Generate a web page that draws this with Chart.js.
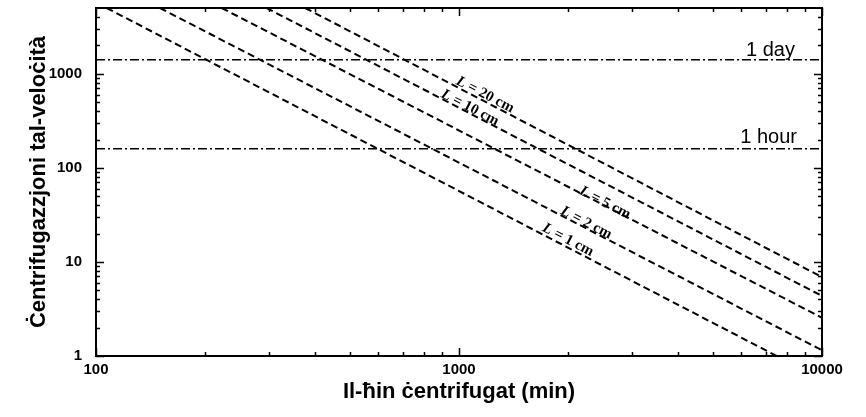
<!DOCTYPE html>
<html>
<head>
<meta charset="utf-8">
<script src="https://cdn.jsdelivr.net/npm/chart.js@4.4.0/dist/chart.umd.min.js"></script>
<style>
  html, body { margin: 0; padding: 0; background: #fff; }
  #wrap { width: 866px; height: 417px; }
</style>
</head>
<body>
<div id="wrap"><canvas id="c" width="866" height="417"></canvas></div>
<script>
/* ── DATA ── */
const X_MAJOR = [100, 1000, 10000];
const X_MINOR = [200, 300, 400, 500, 600, 700, 800, 900, 2000, 3000, 4000, 5000, 6000, 7000, 8000, 9000];
const Y_MAJOR = [1, 10, 100, 1000];
const Y_MINOR = [2, 3, 4, 5, 6, 7, 8, 9, 20, 30, 40, 50, 60, 70, 80, 90,
                 200, 300, 400, 500, 600, 700, 800, 900, 2000, 3000, 4000];

const SERIES   = ['L = 1 cm', 'L = 2 cm', 'L = 5 cm', 'L = 10 cm', 'L = 20 cm'];
const SERIES_X = [[107, 7500], [150, 10000], [222, 10000], [295, 10000], [377, 10000]];
const SERIES_Y = [[5000, 1], [5000, 1.15], [5000, 2.55], [5000, 4.35], [5000, 6.9]];
const LABEL_X  = [1995, 2240, 2523, 1072, 1180];
const LABEL_Y  = [17.1, 26, 42.4, 435, 598];

const REF_NAMES   = ['1 day', '1 hour'];
const REF_Y       = [1410, 160];
const REF_LABEL_X = [8425, 8530];
const REF_LABEL_Y = [1553, 184];

/* ── PLUGINS ── */
const frameTicks = {
  id: 'frameTicks',
  afterDraw(chart) {
    const { ctx, chartArea: a, scales: { x, y } } = chart;
    ctx.save();
    ctx.strokeStyle = '#000';
    ctx.lineWidth = 1.5;
    ctx.beginPath();
    const vTicks = (vals, len) => vals.forEach(v => {
      const px = Math.round(x.getPixelForValue(v)) + 0.5;
      ctx.moveTo(px, a.bottom); ctx.lineTo(px, a.bottom - len);
      ctx.moveTo(px, a.top); ctx.lineTo(px, a.top + len);
    });
    const hTicks = (vals, len) => vals.forEach(v => {
      const py = Math.round(y.getPixelForValue(v)) + 0.5;
      ctx.moveTo(a.left, py); ctx.lineTo(a.left + len, py);
      ctx.moveTo(a.right, py); ctx.lineTo(a.right - len, py);
    });
    vTicks(X_MAJOR, 8); vTicks(X_MINOR, 4);
    hTicks(Y_MAJOR, 8); hTicks(Y_MINOR, 4);
    ctx.stroke();
    ctx.lineWidth = 2;
    ctx.strokeRect(a.left, a.top, a.right - a.left, a.bottom - a.top);
    ctx.restore();
  }
};

const lineLabels = {
  id: 'lineLabels',
  afterDatasetsDraw(chart) {
    const { ctx, scales: { x, y } } = chart;
    ctx.save();
    ctx.fillStyle = '#000';
    ctx.textBaseline = 'middle';
    ctx.textAlign = 'left';
    SERIES.forEach((name, i) => {
      const xs = SERIES_X[i], ys = SERIES_Y[i];
      const ang = Math.atan2(
        y.getPixelForValue(ys[1]) - y.getPixelForValue(ys[0]),
        x.getPixelForValue(xs[1]) - x.getPixelForValue(xs[0]));
      const head = name.slice(0, 1), rest = name.slice(1);
      const fHead = "italic bold 15px 'Liberation Serif'";
      const fRest = "bold 15px 'Liberation Serif'";
      ctx.font = fHead; const wH = ctx.measureText(head).width;
      ctx.font = fRest; const wR = ctx.measureText(rest).width;
      ctx.save();
      ctx.translate(x.getPixelForValue(LABEL_X[i]), y.getPixelForValue(LABEL_Y[i]));
      ctx.rotate(ang);
      const x0 = -(wH + wR) / 2;
      ctx.font = fHead; ctx.fillText(head, x0, 0);
      ctx.font = fRest; ctx.fillText(rest, x0 + wH, 0);
      ctx.restore();
    });
    ctx.font = "20px 'Liberation Sans'";
    ctx.textAlign = 'right';
    ctx.textBaseline = 'alphabetic';
    REF_NAMES.forEach((name, i) => {
      ctx.fillText(name, x.getPixelForValue(REF_LABEL_X[i]), y.getPixelForValue(REF_LABEL_Y[i]));
    });
    ctx.restore();
  }
};

/* ── CHART ── */
const datasets = SERIES.map((name, i) => ({
  label: name,
  data: SERIES_X[i].map((v, j) => ({ x: v, y: SERIES_Y[i][j] })),
  borderColor: '#000',
  borderWidth: 2,
  borderDash: [7, 4],
  pointRadius: 0,
  fill: false
})).concat(REF_NAMES.map((name, i) => ({
  label: name,
  data: [{ x: 100, y: REF_Y[i] }, { x: 10000, y: REF_Y[i] }],
  borderColor: '#000',
  borderWidth: 1.5,
  borderDash: [9, 3, 2, 3],
  pointRadius: 0,
  fill: false
})));

const tickFont = { family: "'Liberation Sans'", size: 15, weight: 'bold' };
const titleFont = { family: "'Liberation Sans'", size: 22, weight: 'bold' };

new Chart(document.getElementById('c'), {
  type: 'line',
  data: { datasets },
  options: {
    responsive: false,
    animation: false,
    layout: { padding: { left: 20, right: 44, top: 8, bottom: 12 } },
    plugins: { legend: { display: false }, tooltip: { enabled: false } },
    scales: {
      x: {
        type: 'logarithmic',
        min: 100, max: 10000,
        grid: { display: false, drawTicks: false },
        border: { display: false },
        afterBuildTicks: s => { s.ticks = X_MAJOR.map(v => ({ value: v })); },
        afterFit: s => { s.height = 49; s.paddingLeft = 0; s.paddingRight = 0; },
        ticks: { color: '#000', font: tickFont, padding: 5, maxRotation: 0, autoSkip: false,
                 callback: v => String(v) },
        title: { display: true, text: 'Il-ħin ċentrifugat (min)', color: '#000', font: titleFont,
                 padding: { top: 0, bottom: 0 } }
      },
      y: {
        type: 'logarithmic',
        min: 1, max: 5000,
        grid: { display: false, drawTicks: false },
        border: { display: false },
        afterBuildTicks: s => { s.ticks = Y_MAJOR.map(v => ({ value: v })); },
        afterFit: s => { s.width = 76; s.paddingTop = 0; s.paddingBottom = 0; },
        ticks: { color: '#000', font: tickFont, padding: 14, autoSkip: false,
                 callback: v => String(v) },
        title: { display: true, text: 'Ċentrifugazzjoni tal-veloċità', color: '#000', font: titleFont,
                 padding: { top: 6, bottom: 0 } }
      }
    }
  },
  plugins: [lineLabels, frameTicks]
});
</script>
</body>
</html>
